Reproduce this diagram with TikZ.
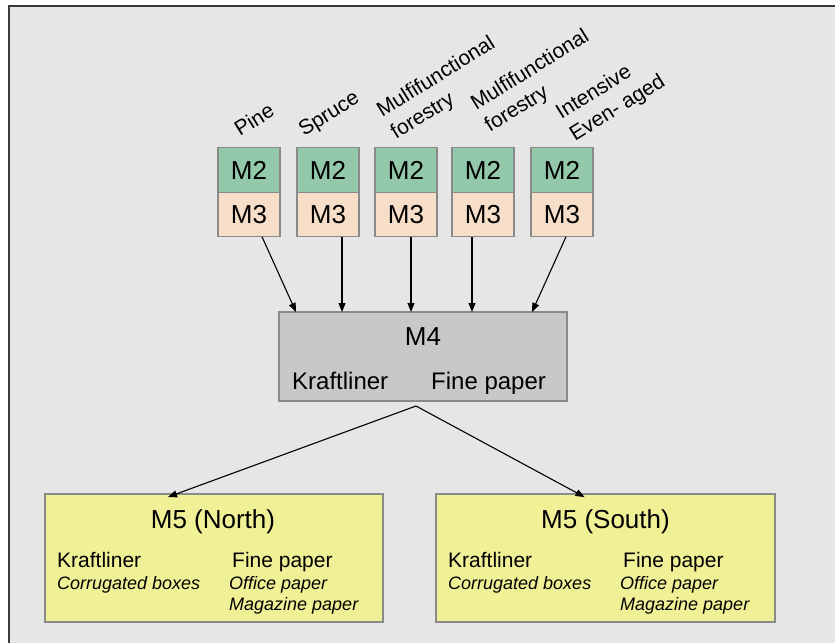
\documentclass[tikz,border=0pt]{standalone}
\usepackage{fontspec}
\setmainfont{Liberation Sans}
\usetikzlibrary{arrows.meta}
\definecolor{bggray}{HTML}{E6E6E6}
\definecolor{framegray}{HTML}{3A3A3A}
\definecolor{edgegray}{HTML}{8A8A8A}
\definecolor{mtwo}{HTML}{93C8AB}
\definecolor{mthree}{HTML}{F6DEC8}
\definecolor{mfour}{HTML}{C8C8C8}
\definecolor{mfive}{HTML}{F0F096}

\begin{document}
\begin{tikzpicture}[x=1pt, y=-1pt,
    box/.style={draw=edgegray, line width=1.2pt, inner sep=0pt, outer sep=0pt},
    modbox/.style={box, minimum width=62pt, minimum height=44.5pt, font=\fontsize{26}{28}\selectfont},
    lab/.style={rotate=32, anchor=base west, align=left, inner sep=0pt, font=\fontsize{21}{26}\selectfont},
    title/.style={anchor=base, inner sep=0pt, font=\fontsize{26}{28}\selectfont},
    prod/.style={anchor=base west, inner sep=0pt, font=\fontsize{21}{24}\selectfont},
    use/.style={anchor=base west, inner sep=0pt, font=\fontsize{18}{21}\selectfont\itshape},
    flow/.style={-{Triangle[length=9pt,width=7pt]}, line width=1.1pt}]
      \useasboundingbox (0,0) rectangle (835,643);

      % slide background with its frame
      \fill[white] (0,0) rectangle (835,643);
      \fill[bggray] (9,6) rectangle (835,643);
      \draw[framegray, line width=2pt] (9,643) -- (9,6) -- (835,6);

      % stand types (base = last line)
      \node[lab] (labpine) at (240,137) {Pine};
      \node[lab] (labspruce) at (304,137) {Spruce};
      \node[lab] (labmulti) at (396,140) {Mulfifunctional\\forestry};
      \node[lab] (labmultib) at (490,133) {Mulfifunctional\\forestry};
      \node[lab] (labeven) at (575,142) {Intensive\\Even- aged};

      % M2 / M3 stacks
      \node[modbox, fill=mtwo] (m2a) at (249,170) {M2};
      \node[modbox, fill=mthree, anchor=north] (m3a) at (m2a.south) {M3};
      \node[modbox, fill=mtwo] (m2b) at (328,170) {M2};
      \node[modbox, fill=mthree, anchor=north] (m3b) at (m2b.south) {M3};
      \node[modbox, fill=mtwo] (m2c) at (406,170) {M2};
      \node[modbox, fill=mthree, anchor=north] (m3c) at (m2c.south) {M3};
      \node[modbox, fill=mtwo] (m2d) at (483,170) {M2};
      \node[modbox, fill=mthree, anchor=north] (m3d) at (m2d.south) {M3};
      \node[modbox, fill=mtwo] (m2e) at (562,170) {M2};
      \node[modbox, fill=mthree, anchor=north] (m3e) at (m2e.south) {M3};

      % M4 mill
      \node[box, fill=mfour, minimum width=288pt, minimum height=89pt] (m4) at (423,356.5) {};
      \node[title] (m4title) at (423,345) {M4};
      \node[prod, font=\fontsize{24}{26}\selectfont] (m4kraft) at (292,389) {Kraftliner};
      \node[prod, font=\fontsize{24}{26}\selectfont] (m4fine) at (431,389) {Fine paper};

      % M5 markets
      \node[box, fill=mfive, minimum width=338pt, minimum height=128pt] (m5n) at (214,558) {};
      \node[title] (m5ntitle) at (213,528) {M5 (North)};
      \node[prod] (m5nkraft) at (57,567) {Kraftliner};
      \node[use] (m5nbox) at (57,589) {Corrugated boxes};
      \node[prod] (m5nfine) at (232,567) {Fine paper};
      \node[use] (m5noffice) at (229,589) {Office paper};
      \node[use] (m5nmag) at (229,610) {Magazine paper};

      \node[box, fill=mfive, minimum width=339pt, minimum height=128pt] (m5s) at (605.5,558) {};
      \node[title] (m5stitle) at (605.5,528) {M5 (South)};
      \node[prod] (m5skraft) at (448,567) {Kraftliner};
      \node[use] (m5sbox) at (448,589) {Corrugated boxes};
      \node[prod] (m5sfine) at (623,567) {Fine paper};
      \node[use] (m5soffice) at (620,589) {Office paper};
      \node[use] (m5smag) at (620,610) {Magazine paper};

      % flows
      \draw[flow] ([xshift=13pt]m3a.south) -- ([xshift=-127pt]m4.north);
      \draw[flow] ([xshift=14pt]m3b.south) -- ([xshift=-81pt]m4.north);
      \draw[flow] ([xshift=5pt]m3c.south) -- ([xshift=-12pt]m4.north);
      \draw[flow] ([xshift=-11pt]m3d.south) -- ([xshift=49pt]m4.north);
      \draw[flow] ([xshift=4pt]m3e.south) -- ([xshift=109pt]m4.north);

      \coordinate (m4out) at ([xshift=-7pt,yshift=-5pt]m4.south);
      \draw[flow] (m4out) -- ([xshift=-46pt,yshift=-3pt]m5n.north);
      \draw[flow] (m4out) -- ([xshift=-21pt,yshift=-3pt]m5s.north);
    \end{tikzpicture}
\end{document}
